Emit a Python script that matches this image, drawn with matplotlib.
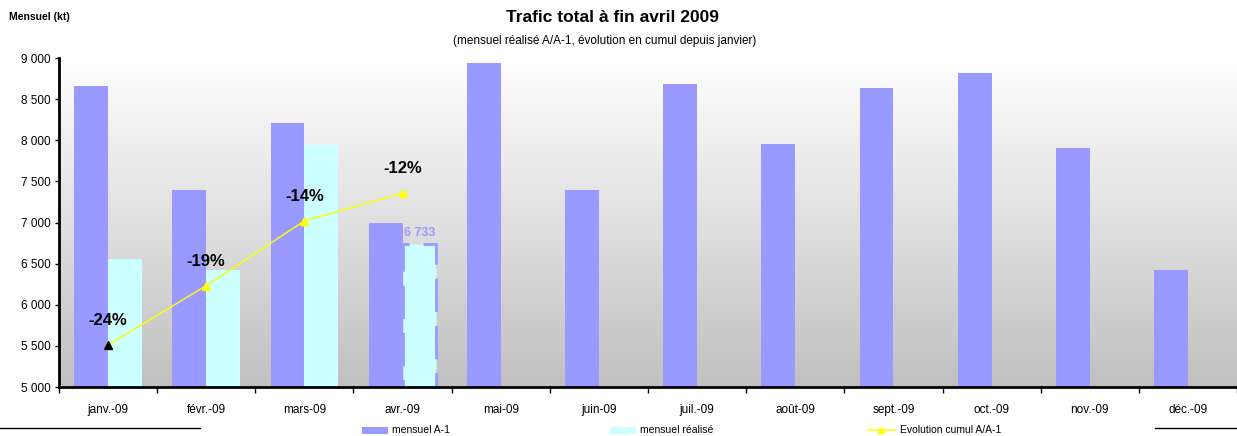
import numpy as np
import matplotlib
matplotlib.use("Agg")
import matplotlib.pyplot as plt
from matplotlib.colors import LinearSegmentedColormap
from matplotlib.patches import Rectangle
from matplotlib.lines import Line2D
from matplotlib.ticker import FuncFormatter

plt.rcParams['font.family'] = ['Liberation Sans Narrow', 'Liberation Sans', 'DejaVu Sans']

# données (kt)
mois = ["janv.-09", "févr.-09", "mars-09", "avr.-09", "mai-09", "juin-09",
        "juil.-09", "août-09", "sept.-09", "oct.-09", "nov.-09", "déc.-09"]
mensuel_a1 = [8665, 7395, 8215, 6990, 8945, 7400, 8680, 7950, 8630, 8815, 7910, 6420]
mensuel_realise = [6555, 6425, 7940, 6733]
evolution_cumul = [-24.0, -19.3, -14.2, -12.0]
evolution_labels = ["-24%", "-19%", "-14%", "-12%"]

BLEU = "#9999FF"
CYAN = "#CCFFFF"
JAUNE = "#FFFF00"

fig = plt.figure(figsize=(12.37, 4.36), dpi=100)
W, H = 1237, 436
ax = fig.add_axes([59 / W, 1 - 387 / H, (W - 59) / W, (387 - 58) / H])

# fond dégradé (blanc en haut, gris en bas)
grad = LinearSegmentedColormap.from_list("fond", ["#C0C0C0", "#FFFFFF"])
ax.imshow(np.linspace(0, 1, 256).reshape(-1, 1), cmap=grad, aspect="auto", origin="lower",
          extent=[0, 1, 0, 1], transform=ax.transAxes, zorder=0)

x = np.arange(len(mois))
w = 0.345
ax.bar(x - w / 2, mensuel_a1, width=w, color=BLEU, zorder=2)
xr = x[:len(mensuel_realise)]
ax.bar(xr[:3] + w / 2, mensuel_realise[:3], width=w, color=CYAN, zorder=2)
# dernier mois : contour bleu en tirets
ax.bar(xr[3:] + w / 2, mensuel_realise[3:], width=w, color=CYAN, edgecolor=BLEU,
       linewidth=2, linestyle=(0, (12, 5)), zorder=2)
ax.text(xr[3] + w / 2, mensuel_realise[3] + 70, "6 733", ha="center", va="bottom",
        color=BLEU, fontsize=9, fontweight="bold", zorder=3)

ax.set_xlim(-0.5, -0.5 + (W - 59) / 98.9)
ax.set_ylim(5000, 9000)
ax.set_yticks(range(5000, 9001, 500))
ax.yaxis.set_major_formatter(FuncFormatter(lambda v, p: f"{int(v):,}".replace(",", " ")))
ax.set_xticks(x)
ax.set_xticklabels(mois)
ax.set_xticks(np.arange(-0.5, len(mois), 1), minor=True)
ax.tick_params(axis="x", which="major", length=0, pad=12, labelsize=8.5)
ax.tick_params(axis="x", which="minor", length=4, width=1, direction="out")
ax.tick_params(axis="y", length=3, width=1, labelsize=8.5, pad=3)
for s in ["top", "right"]:
    ax.spines[s].set_visible(False)
ax.spines["left"].set_linewidth(2)
ax.spines["bottom"].set_linewidth(2)
ax.spines["left"].set_zorder(4)
ax.spines["bottom"].set_zorder(4)

# évolution cumul sur axe secondaire
ax2 = ax.twinx()
ax2.set_ylim(-27.3, -1.35)
ax2.set_axis_off()
ax2.plot(xr, evolution_cumul, color=JAUNE, lw=1, marker="^", ms=6,
         mfc=JAUNE, mec=JAUNE, zorder=3)
ax2.plot(xr[:1], evolution_cumul[:1], ls="none", marker="^", ms=6, color="black", zorder=4)
for xi, yi, lab in zip(xr, evolution_cumul, evolution_labels):
    ax2.annotate(lab, (xi, yi), xytext=(0, 12), textcoords="offset points",
                 ha="center", va="bottom", fontsize=12, fontweight="bold")

# titres
fig.text(612 / W, 1 - 18 / H, "Trafic total à fin avril 2009", ha="center", va="center",
         fontsize=12.5, fontweight="bold")
fig.text(605 / W, 1 - 41 / H, "(mensuel réalisé A/A-1, évolution en cumul depuis janvier)",
         ha="center", va="center", fontsize=8.5)
fig.text(9 / W, 1 - 17 / H, "Mensuel (kt)", ha="left", va="center", fontsize=7.5,
         fontweight="bold")

# légende
ly = 1 - 430 / H
fig.add_artist(Rectangle((362 / W, ly - 3.5 / H), 26 / W, 7 / H, transform=fig.transFigure,
                         facecolor=BLEU, edgecolor="none"))
fig.text(392 / W, ly, "mensuel A-1", va="center", fontsize=7.5)
fig.add_artist(Rectangle((610 / W, ly - 3.5 / H), 26 / W, 7 / H, transform=fig.transFigure,
                         facecolor=CYAN, edgecolor="none"))
fig.text(640 / W, ly, "mensuel réalisé", va="center", fontsize=7.5)
fig.add_artist(Line2D([868 / W, 895 / W], [ly, ly], transform=fig.transFigure,
                      color=JAUNE, lw=1.2))
fig.add_artist(Line2D([881.5 / W], [ly], transform=fig.transFigure, color=JAUNE,
                      marker="^", ms=5))
fig.text(900 / W, ly, "Evolution cumul A/A-1", va="center", fontsize=7.5)
fig.add_artist(Line2D([0, 200 / W], [1 - 428 / H] * 2, transform=fig.transFigure,
                      color="black", lw=1))
fig.add_artist(Line2D([1155 / W, 1], [1 - 428 / H] * 2, transform=fig.transFigure,
                      color="black", lw=1))

fig.savefig("out.png", dpi=100)
